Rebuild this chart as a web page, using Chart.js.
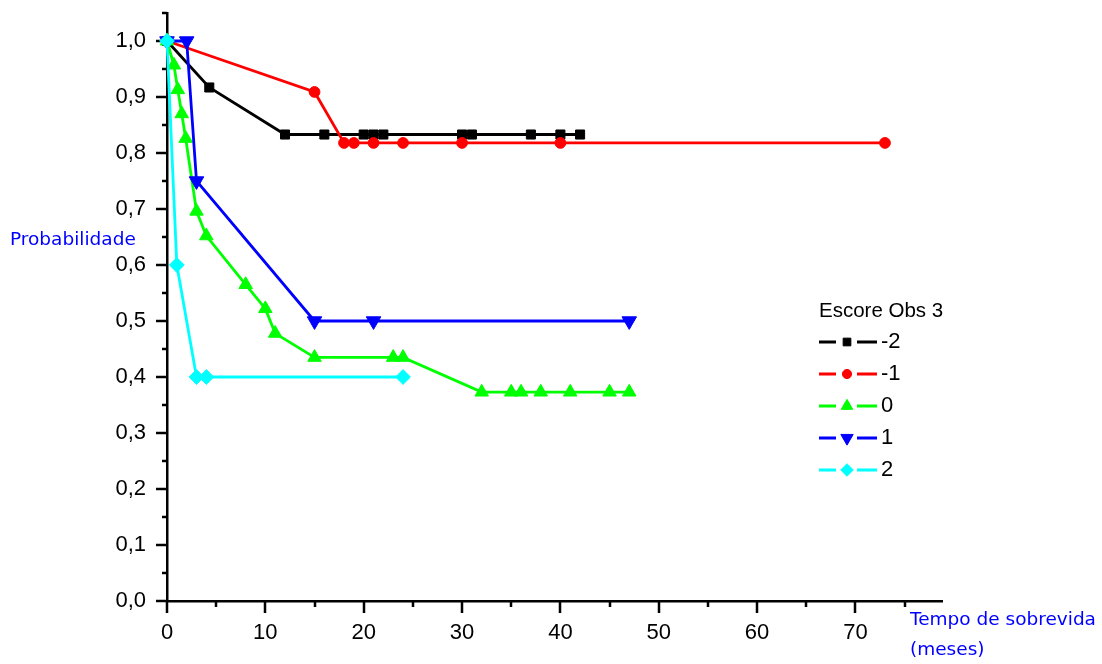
<!DOCTYPE html>
<html>
<head>
<meta charset="utf-8">
<script src="https://cdn.jsdelivr.net/npm/chart.js@4.4.1/dist/chart.umd.min.js"></script>
<style>
    html, body { margin: 0; padding: 0; background: #fff; }
    #wrap { width: 1102px; height: 664px; }
</style>
</head>
<body>
<div id="wrap"><canvas id="survChart"></canvas></div>
<script>
// Kaplan-Meier curves
const seriesNames = ['-2', '-1', '0', '1', '2'];

const timeM2 = [0, 4.3, 12, 16, 20, 21, 22, 30, 31, 37, 40, 42];
const probM2 = [1, 0.917, 0.833, 0.833, 0.833, 0.833, 0.833, 0.833, 0.833, 0.833, 0.833, 0.833];

const timeM1 = [0, 15, 18, 19, 21, 24, 30, 40, 73];
const probM1 = [1, 0.909, 0.818, 0.818, 0.818, 0.818, 0.818, 0.818, 0.818];

const time0 = [0, 0.7, 1.1, 1.5, 1.9, 3, 4, 8, 10, 11, 15, 23, 24, 32, 35, 36, 38, 41, 45, 47];
const prob0 = [1, 0.957, 0.913, 0.870, 0.826, 0.696, 0.652, 0.565, 0.522, 0.478, 0.435, 0.435, 0.435,
               0.373, 0.373, 0.373, 0.373, 0.373, 0.373, 0.373];

const timeP1 = [0, 2, 3, 15, 21, 47];
const probP1 = [1, 1, 0.75, 0.5, 0.5, 0.5];

const timeP2 = [0, 1, 3, 4, 24];
const probP2 = [1, 0.6, 0.4, 0.4, 0.4];

const xTickValues = [0, 10, 20, 30, 40, 50, 60, 70];
const xTickLabels = ['0', '10', '20', '30', '40', '50', '60', '70'];
const xMinorValues = [5, 15, 25, 35, 45, 55, 65, 75];
const yTickValues = [0, 0.1, 0.2, 0.3, 0.4, 0.5, 0.6, 0.7, 0.8, 0.9, 1.0];
const yTickLabels = ['0,0', '0,1', '0,2', '0,3', '0,4', '0,5', '0,6', '0,7', '0,8', '0,9', '1,0'];
const yMinorValues = [0.05, 0.15, 0.25, 0.35, 0.45, 0.55, 0.65, 0.75, 0.85, 0.95, 1.05];

const legendTitle = 'Escore Obs 3';
const xTitle = ['Tempo de sobrevida', '(meses)'];
const yTitle = 'Probabilidade';

const TICK_FONT = '22px "Liberation Sans", Arial, sans-serif';
const LEGEND_TITLE_FONT = '20.5px "Liberation Sans", Arial, sans-serif';
const TITLE_FONT = '18.5px "DejaVu Sans", Tahoma, sans-serif';
const LINE_W = 2.8;

function toPoints(xs, ys) {
    return xs.map((x, i) => ({ x: x, y: ys[i] }));
}

function makeSet(i, xs, ys, color, style, radius, rotation, order) {
    return {
        label: seriesNames[i],
        data: toPoints(xs, ys),
        borderColor: color,
        backgroundColor: color,
        pointBackgroundColor: color,
        pointBorderColor: color,
        pointBorderWidth: 1,
        borderWidth: LINE_W,
        pointStyle: style,
        pointRadius: radius,
        pointRotation: rotation,
        showLine: true,
        tension: 0,
        clip: false,
        order: order
    };
}

const datasets = [
    makeSet(0, timeM2, probM2, '#000000', 'rect', 6.4, 0, 4),
    makeSet(1, timeM1, probM1, '#ff0000', 'circle', 5.4, 0, 3),
    makeSet(2, time0, prob0, '#00ff00', 'triangle', 7.8, 0, 2),
    makeSet(3, timeP1, probP1, '#0000ff', 'triangle', 8.4, 180, 1),
    makeSet(4, timeP2, probP2, '#00ffff', 'rectRot', 7.4, 0, 0)
];

// ticks (major + minor), tick labels and axis titles
const axisDecor = {
    id: 'axisDecor',
    beforeDatasetsDraw(chart) {
        const { ctx, chartArea: a } = chart;
        const x = chart.scales.x, y = chart.scales.y;
        ctx.save();
        ctx.strokeStyle = '#000';
        ctx.lineWidth = 2.5;
        ctx.beginPath();
        xTickValues.forEach(v => {
            const px = Math.round(x.getPixelForValue(v));
            ctx.moveTo(px, a.bottom); ctx.lineTo(px, a.bottom + 12);
        });
        xMinorValues.forEach(v => {
            const px = Math.round(x.getPixelForValue(v));
            ctx.moveTo(px, a.bottom); ctx.lineTo(px, a.bottom + 6);
        });
        yTickValues.forEach(v => {
            const py = Math.round(y.getPixelForValue(v));
            ctx.moveTo(a.left, py); ctx.lineTo(a.left - 11, py);
        });
        yMinorValues.forEach(v => {
            const py = Math.round(y.getPixelForValue(v));
            ctx.moveTo(a.left, py); ctx.lineTo(a.left - 5, py);
        });
        ctx.stroke();

        ctx.fillStyle = '#000';
        ctx.font = TICK_FONT;
        ctx.textAlign = 'center';
        ctx.textBaseline = 'middle';
        xTickValues.forEach((v, i) => {
            ctx.fillText(xTickLabels[i], x.getPixelForValue(v), a.bottom + 32);
        });
        ctx.textAlign = 'right';
        yTickValues.forEach((v, i) => {
            ctx.fillText(yTickLabels[i], a.left - 21, y.getPixelForValue(v));
        });

        ctx.fillStyle = '#0000ff';
        ctx.font = TITLE_FONT;
        ctx.textAlign = 'left';
        ctx.fillText(yTitle, 10, 240);
        ctx.fillText(xTitle[0], 910, 620);
        ctx.fillText(xTitle[1], 910, 650);
        ctx.restore();
    }
};

// legend in the style of the original plot
const seriesLegend = {
    id: 'seriesLegend',
    afterDraw(chart) {
        const ctx = chart.ctx;
        const left = 819, rowTop = 342, rowGap = 32;
        ctx.save();
        ctx.fillStyle = '#000';
        ctx.font = LEGEND_TITLE_FONT;
        ctx.textAlign = 'left';
        ctx.textBaseline = 'middle';
        ctx.fillText(legendTitle, left, 311);
        ctx.font = TICK_FONT;
        chart.data.datasets.forEach((ds, i) => {
            const cy = rowTop + i * rowGap;
            ctx.strokeStyle = ds.borderColor;
            ctx.lineWidth = LINE_W;
            ctx.beginPath();
            ctx.moveTo(left, cy); ctx.lineTo(left + 17, cy);
            ctx.moveTo(left + 38, cy); ctx.lineTo(left + 58, cy);
            ctx.stroke();
            ctx.fillStyle = ds.pointBackgroundColor;
            ctx.lineWidth = 1;
            Chart.helpers.drawPoint(ctx, {
                pointStyle: ds.pointStyle,
                radius: ds.pointRadius * 0.85,
                rotation: ds.pointRotation,
                borderWidth: 1
            }, left + 28, cy);
            ctx.fillStyle = '#000';
            ctx.fillText(ds.label, left + 62, cy);
        });
        ctx.restore();
    }
};

const ctx = document.getElementById('survChart').getContext('2d');
const chart = new Chart(ctx, {
    type: 'scatter',
    data: { datasets: datasets },
    options: {
        responsive: true,
        maintainAspectRatio: false,
        animation: false,
        layout: { padding: { top: 13, right: 160, bottom: 0, left: 0 } },
        plugins: {
            legend: { display: false },
            tooltip: { enabled: false }
        },
        scales: {
            x: {
                type: 'linear',
                min: 0,
                max: 78.8,
                grid: { display: false },
                ticks: { display: false },
                border: { display: true, color: '#000', width: 2.5 },
                afterFit: s => { s.height = 63; }
            },
            y: {
                type: 'linear',
                min: 0,
                max: 1.05,
                grid: { display: false },
                ticks: { display: false },
                border: { display: true, color: '#000', width: 2.5 },
                afterFit: s => { s.width = 167; }
            }
        }
    },
    plugins: [axisDecor, seriesLegend]
});
</script>
</body>
</html>
